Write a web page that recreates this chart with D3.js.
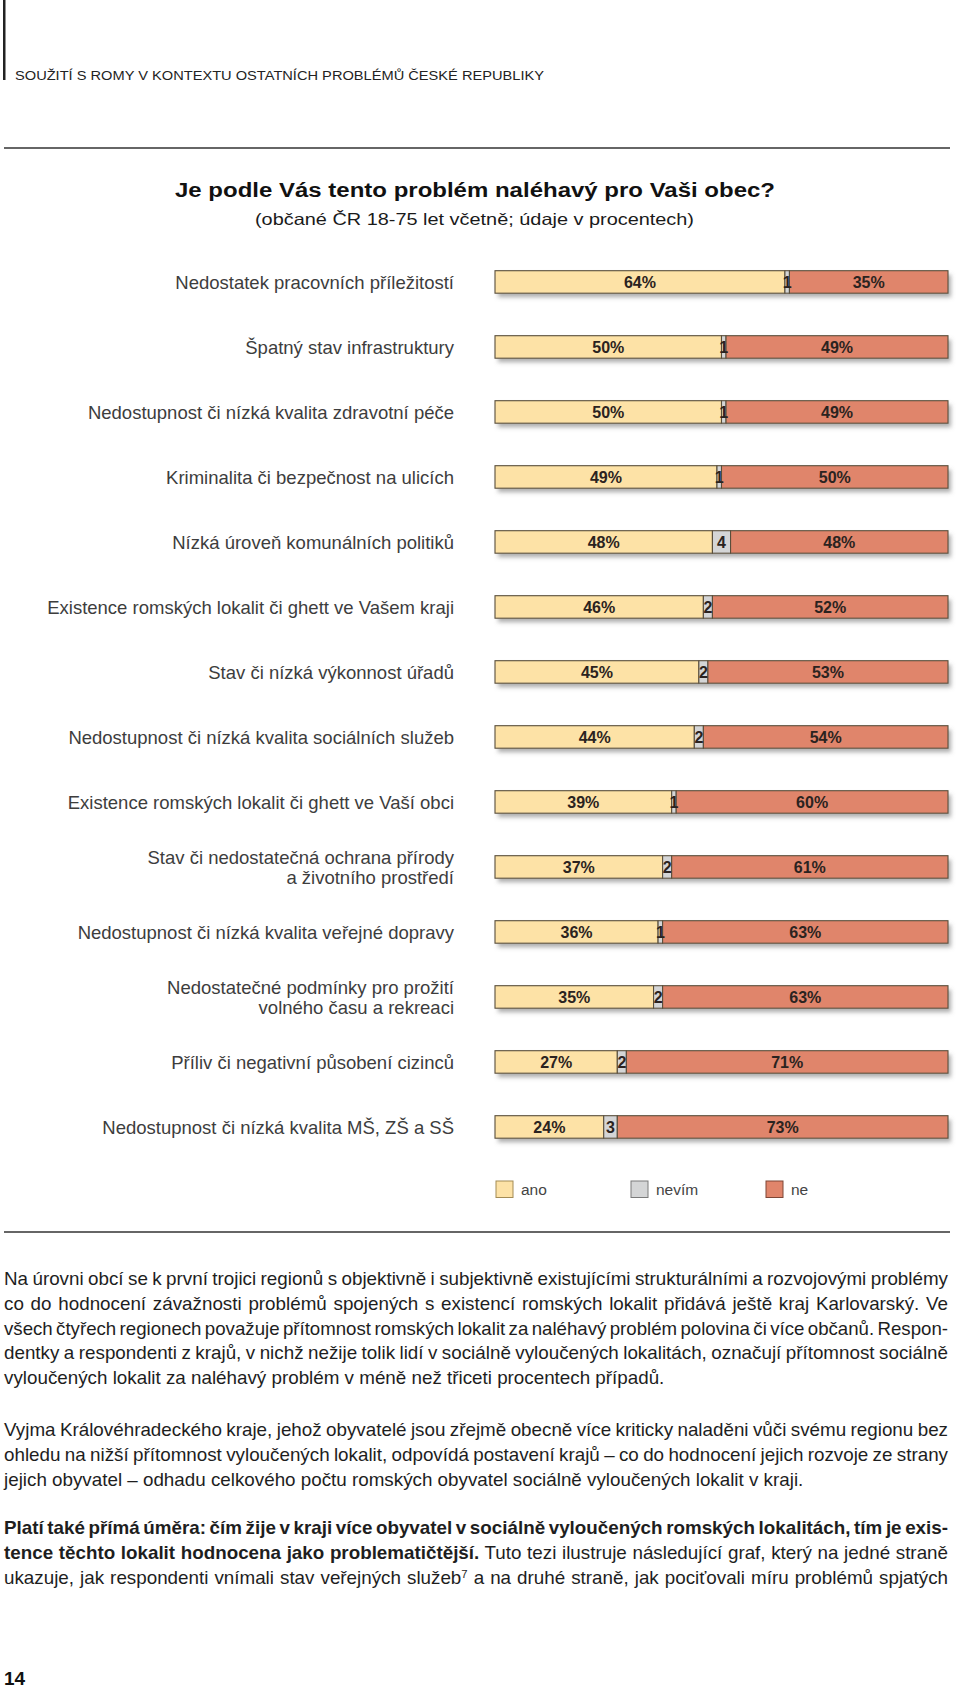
<!DOCTYPE html>
<html><head><meta charset="utf-8">
<script src="https://cdn.jsdelivr.net/npm/d3@7"></script>
<style>body{margin:0;background:#fff}svg{display:block}</style>
</head><body>
<script>
// ---------- data ----------
const categories = [
  "Nedostatek pracovních příležitostí",
  "Špatný stav infrastruktury",
  "Nedostupnost či nízká kvalita zdravotní péče",
  "Kriminalita či bezpečnost na ulicích",
  "Nízká úroveň komunálních politiků",
  "Existence romských lokalit či ghett ve Vašem kraji",
  "Stav či nízká výkonnost úřadů",
  "Nedostupnost či nízká kvalita sociálních služeb",
  "Existence romských lokalit či ghett ve Vaší obci",
  "Stav či nedostatečná ochrana přírody\na životního prostředí",
  "Nedostupnost či nízká kvalita veřejné dopravy",
  "Nedostatečné podmínky pro prožití\nvolného času a rekreaci",
  "Příliv či negativní působení cizinců",
  "Nedostupnost či nízká kvalita MŠ, ZŠ a SŠ"
];
const ano   = [64, 50, 50, 49, 48, 46, 45, 44, 39, 37, 36, 35, 27, 24];
const nevim = [ 1,  1,  1,  1,  4,  2,  2,  2,  1,  2,  1,  2,  2,  3];
const ne    = [35, 49, 49, 50, 48, 52, 53, 54, 60, 61, 63, 63, 71, 73];
const seriesNames = ["ano", "nevím", "ne"];
const seriesColors = ["#FDE2A6", "#D4D5D6", "#E0856B"];
const legendStrokes = ["#A38B55", "#7A7A7A", "#7E4636"];

const headerText = "SOUŽITÍ S ROMY V KONTEXTU OSTATNÍCH PROBLÉMŮ ČESKÉ REPUBLIKY";
const titleText = "Je podle Vás tento problém naléhavý pro Vaši obec?";
const subtitleText = "(občané ČR 18-75 let včetně; údaje v procentech)";
const pageNumber = "14";

// paragraphs: lines of runs [text, bold?, super?]
const paragraphs = [
  {lines: [
    [["Na úrovni obcí se k první trojici regionů s objektivně i subjektivně existujícími strukturálními a rozvojovými problémy"]],
    [["co do hodnocení závažnosti problémů spojených s existencí romských lokalit přidává ještě kraj Karlovarský. Ve"]],
    [["všech čtyřech regionech považuje přítomnost romských lokalit za naléhavý problém polovina či více občanů. Respon-"]],
    [["dentky a respondenti z krajů, v nichž nežije tolik lidí v sociálně vyloučených lokalitách, označují přítomnost sociálně"]],
    [["vyloučených lokalit za naléhavý problém v méně než třiceti procentech případů."]]
  ], justifyLast: false},
  {lines: [
    [["Vyjma Královéhradeckého kraje, jehož obyvatelé jsou zřejmě obecně více kriticky naladěni vůči svému regionu bez"]],
    [["ohledu na nižší přítomnost vyloučených lokalit, odpovídá postavení krajů – co do hodnocení jejich rozvoje ze strany"]],
    [["jejich obyvatel – odhadu celkového počtu romských obyvatel sociálně vyloučených lokalit v kraji."]]
  ], justifyLast: false},
  {lines: [
    [["Platí také přímá úměra: čím žije v kraji více obyvatel v sociálně vyloučených romských lokalitách, tím je exis-", true]],
    [["tence těchto lokalit hodnocena jako problematičtější.", true], [" Tuto tezi ilustruje následující graf, který na jedné straně"]],
    [["ukazuje, jak respondenti vnímali stav veřejných služeb"], ["7", false, true], [" a na druhé straně, jak pociťovali míru problémů spjatých"]]
  ], justifyLast: true}
];

// ---------- page ----------
const W = 960, H = 1688;
const svg = d3.select("body").append("svg").attr("width", W).attr("height", H)
  .style("font-family", "'Liberation Sans', Arial, Helvetica, sans-serif");

const defs = svg.append("defs");
const f = defs.append("filter").attr("id", "shadow").attr("x", "-5%").attr("y", "-50%").attr("width", "115%").attr("height", "250%");
f.append("feDropShadow").attr("dx", 3).attr("dy", 4).attr("stdDeviation", 2.2)
  .attr("flood-color", "#6d6d6d").attr("flood-opacity", 0.55);

// header
svg.append("rect").attr("x", 3).attr("y", 0).attr("width", 2.5).attr("height", 80).attr("fill", "#222");
svg.append("text").attr("x", 15).attr("y", 80).attr("font-size", 12.5).attr("fill", "#222")
  .attr("textLength", 529).attr("lengthAdjust", "spacingAndGlyphs").text(headerText);
svg.append("line").attr("x1", 4).attr("x2", 950).attr("y1", 148).attr("y2", 148)
  .attr("stroke", "#333").attr("stroke-width", 1.5);

// title
svg.append("text").attr("x", 475).attr("y", 197).attr("text-anchor", "middle")
  .attr("font-size", 20).attr("font-weight", "bold").attr("fill", "#111")
  .attr("textLength", 600).attr("lengthAdjust", "spacingAndGlyphs").text(titleText);
svg.append("text").attr("x", 474.5).attr("y", 225).attr("text-anchor", "middle")
  .attr("font-size", 16.5).attr("fill", "#1a1a1a")
  .attr("textLength", 439).attr("lengthAdjust", "spacingAndGlyphs").text(subtitleText);

// ---------- chart ----------
const rows = categories.map((c, i) => ({cat: c, vals: [ano[i], nevim[i], ne[i]]}));
const x = d3.scaleLinear().domain([0, 100]).range([495, 948]);
const y = d3.scaleBand().domain(categories).range([270.7, 270.7 + 13 * 65 + 22.5])
  .paddingInner(1 - 22.5 / 65).paddingOuter(0);
const color = d3.scaleOrdinal().domain(seriesNames).range(seriesColors);

const rowG = svg.append("g").selectAll("g.row").data(rows).join("g").attr("class", "row");

rowG.append("rect")
  .attr("x", x(0)).attr("y", d => y(d.cat))
  .attr("width", x(100) - x(0)).attr("height", y.bandwidth())
  .attr("fill", "#fff").attr("filter", "url(#shadow)");

rowG.each(function(d) {
  const g = d3.select(this);
  let acc = 0;
  const segs = d.vals.map((v, k) => { const s = {k, v, x0: acc, x1: acc + v}; acc += v; return s; });
  g.selectAll("rect.seg").data(segs).join("rect").attr("class", "seg")
    .attr("x", s => x(s.x0)).attr("y", y(d.cat))
    .attr("width", s => x(s.x1) - x(s.x0)).attr("height", y.bandwidth())
    .attr("fill", s => color(seriesNames[s.k]))
    .attr("stroke", "#5a4f3c").attr("stroke-width", 1.1);
  g.selectAll("text.val").data(segs).join("text").attr("class", "val")
    .attr("x", s => (x(s.x0) + x(s.x1)) / 2)
    .attr("y", y(d.cat) + y.bandwidth() / 2)
    .attr("dy", "0.36em").attr("text-anchor", "middle")
    .attr("font-size", 16).attr("font-weight", "bold").attr("fill", "#2b2320")
    .text(s => s.k === 1 ? s.v : s.v + "%");
});

// category labels
rowG.append("text")
  .attr("x", 454).attr("text-anchor", "end").attr("font-size", 18.5).attr("fill", "#3d3d3d")
  .each(function(d) {
    const lines = d.cat.split("\n");
    const cy = y(d.cat) + y.bandwidth() / 2;
    const t = d3.select(this);
    lines.forEach((ln, j) => {
      t.append("tspan").attr("x", 454)
        .attr("y", cy + (j - (lines.length - 1) / 2) * 20)
        .attr("dy", "0.36em").text(ln);
    });
  });

// legend
const legX = [496, 631, 766];
const leg = svg.append("g").selectAll("g").data(seriesNames).join("g");
leg.append("rect").attr("x", (d, i) => legX[i]).attr("y", 1181).attr("width", 17).attr("height", 16.5)
  .attr("fill", d => color(d)).attr("stroke", (d, i) => legendStrokes[i]).attr("stroke-width", 1);
leg.append("text").attr("x", (d, i) => legX[i] + 25).attr("y", 1195)
  .attr("font-size", 15.5).attr("fill", "#444").text(d => d);

svg.append("line").attr("x1", 4).attr("x2", 950).attr("y1", 1232).attr("y2", 1232)
  .attr("stroke", "#333").attr("stroke-width", 1.5);

// ---------- body text ----------
const textX0 = 4, textX1 = 948, lineH = 24.8;
const paraStarts = [1285, 1436, 1534];
// size body font so the free (unjustified) last line of paragraph 2 spans as in the page
const probe = svg.append("text").attr("font-size", 16).text(paragraphs[1].lines[2][0][0]);
const probeW = probe.node().getComputedTextLength();
probe.remove();
const bodySize = Math.min(19, 16 * 800 / probeW);

paragraphs.forEach((p, pi) => {
  p.lines.forEach((runs, li) => {
    const t = svg.append("text").attr("x", textX0).attr("y", paraStarts[pi] + li * lineH)
      .attr("font-size", bodySize).attr("fill", "#1e1e1e").attr("xml:space", "preserve");
    runs.forEach(r => {
      const ts = t.append("tspan").text(r[0]);
      if (r[1]) ts.attr("font-weight", "bold");
      if (r[2]) ts.attr("font-size", bodySize * 0.6).attr("baseline-shift", "super");
    });
    const justify = li < p.lines.length - 1 || p.justifyLast;
    const target = textX1 - textX0;
    const nat = t.node().getComputedTextLength();
    const full = runs.map(r => r[0]).join("");
    const n = (full.match(/ /g) || []).length;
    if (justify && n > 0) {
      let ws = (target - nat) / n;
      if (ws < -1.8) {
        ws = -1.8;
        t.style("word-spacing", ws + "px");
        t.attr("textLength", target).attr("lengthAdjust", "spacingAndGlyphs");
      } else {
        t.style("word-spacing", ws + "px");
      }
    } else if (nat > target) {
      t.attr("textLength", target).attr("lengthAdjust", "spacingAndGlyphs");
    }
  });
});

svg.append("text").attr("x", 4).attr("y", 1685).attr("font-size", 19).attr("font-weight", "bold")
  .attr("fill", "#111").text(pageNumber);
</script>
</body></html>
